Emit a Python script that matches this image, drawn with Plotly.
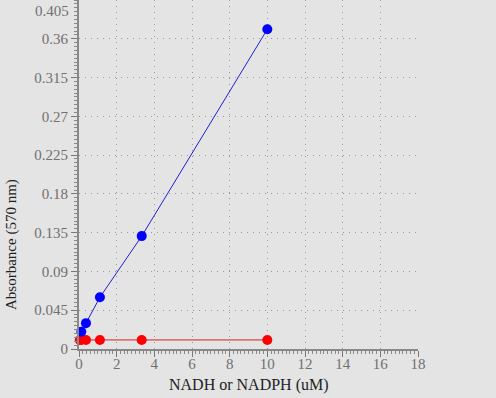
import plotly.graph_objects as go

nadh_x = [0.123, 0.37, 1.11, 3.33, 10]
nadh_y = [0.020, 0.030, 0.060, 0.131, 0.371]
nadph_x = [0.041, 0.123, 0.37, 1.11, 3.33, 10]
nadph_y = [0.0105, 0.0105, 0.0105, 0.0105, 0.0105, 0.0105]

y_ticks = [0, 0.045, 0.09, 0.135, 0.18, 0.225, 0.27, 0.315, 0.36]
y_labels = ["0", "0.045", "0.09", "0.135", "0.18", "0.225", "0.27", "0.315", "0.36"]
x_ticks = [0, 2, 4, 6, 8, 10, 12, 14, 16, 18]

bg = "#e4e4e4"
fig = go.Figure()
fig.add_trace(go.Scatter(x=nadph_x, y=nadph_y, mode="lines+markers",
                         line=dict(color="#d02020", width=1),
                         marker=dict(color="#ff0000", size=10), cliponaxis=False))
fig.add_trace(go.Scatter(x=nadh_x, y=nadh_y, mode="lines+markers",
                         line=dict(color="#2020d0", width=1),
                         marker=dict(color="#0000ff", size=10), cliponaxis=False))

tickfont = dict(family="Liberation Serif, serif", size=15, color="#707070")
titlefont = dict(family="Liberation Serif, serif", size=16, color="#222222")
ytitlefont = dict(family="Liberation Serif, serif", size=15, color="#222222")

fig.update_layout(
    width=496, height=398,
    margin=dict(l=79, r=78, t=0, b=49),
    paper_bgcolor=bg, plot_bgcolor=bg,
    showlegend=False,
    xaxis=dict(range=[0, 18], tickvals=x_ticks, ticks="outside", ticklen=6, tickcolor="#777",
               showline=True, linecolor="#888", linewidth=2, zeroline=False,
               showgrid=True, gridcolor="#999999", griddash="1px,5px", gridwidth=1,
               tickfont=tickfont, automargin=False, ticklabelstandoff=-6,
               minor=dict(dtick=0.2, ticks="outside", ticklen=3, tickcolor="#888", showgrid=False)),
    yaxis=dict(range=[0, 0.405], tickvals=y_ticks, ticktext=y_labels, ticks="outside", ticklen=6,
               tickcolor="#777",
               showline=True, linecolor="#888", linewidth=2, zeroline=False,
               showgrid=True, gridcolor="#999999", griddash="1px,5px", gridwidth=1,
               tickfont=tickfont, automargin=False,
               minor=dict(dtick=0.0045, ticks="outside", ticklen=3, tickcolor="#888", showgrid=False)),
)
fig.add_annotation(text="0.405", xref="paper", yref="paper", x=0, y=1, xanchor="right",
                   yanchor="top", xshift=-8, yshift=-1, showarrow=False, font=tickfont)
fig.add_annotation(text="NADH or NADPH (uM)", xref="paper", yref="paper", x=0.5, y=0,
                   xanchor="center", yanchor="middle", yshift=-36, showarrow=False, font=titlefont)
fig.add_annotation(text="Absorbance (570 nm)", xref="paper", yref="paper", x=0, y=(349 - 245) / 349,
                   xanchor="center", yanchor="middle", xshift=-67, textangle=-90,
                   showarrow=False, font=ytitlefont)
fig.write_html("out.html", config={"displayModeBar": False},
               post_script="document.body.style.margin='0';document.body.style.background='#e4e4e4';")
